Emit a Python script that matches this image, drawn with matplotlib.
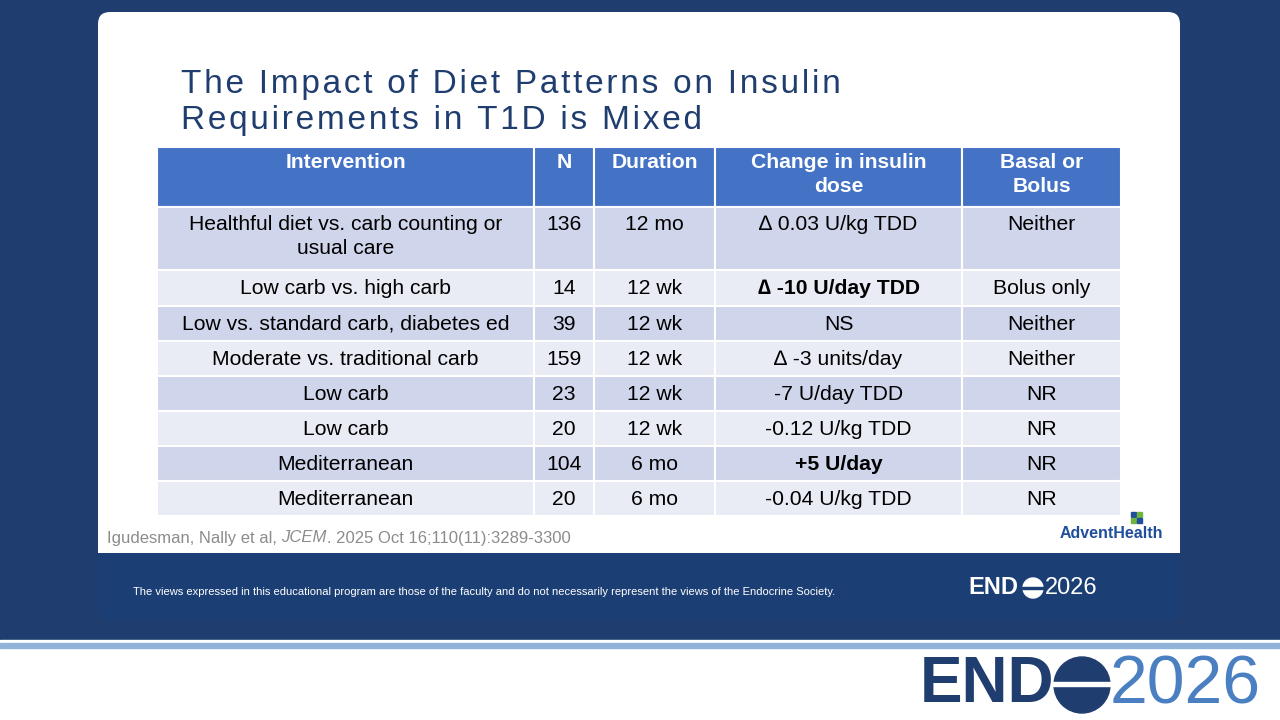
import matplotlib.pyplot as plt
from matplotlib.patches import Rectangle, FancyBboxPatch, Circle

plt.rcParams['font.family'] = ['Liberation Sans', 'DejaVu Sans']

title_lines = ["The Impact of Diet Patterns on Insulin", "Requirements in T1D is Mixed"]
headers = ["Intervention", "N", "Duration", "Change in insulin\ndose", "Basal or\nBolus"]
interventions = ["Healthful diet vs. carb counting or\nusual care", "Low carb vs. high carb",
                 "Low vs. standard carb, diabetes ed", "Moderate vs. traditional carb",
                 "Low carb", "Low carb", "Mediterranean", "Mediterranean"]
n_vals = ["136", "14", "39", "159", "23", "20", "104", "20"]
durations = ["12 mo", "12 wk", "12 wk", "12 wk", "12 wk", "12 wk", "6 mo", "6 mo"]
changes = ["\u2206 0.03 U/kg TDD", "\u2206 -10 U/day TDD", "NS", "\u2206 -3 units/day",
           "-7 U/day TDD", "-0.12 U/kg TDD", "+5 U/day", "-0.04 U/kg TDD"]
bold_change = [False, True, False, False, False, False, True, False]
basal = ["Neither", "Bolus only", "Neither", "Neither", "NR", "NR", "NR", "NR"]

col_x = [157, 534, 594, 715, 962, 1121]
row_y = [147, 207, 270, 306, 341, 376, 411, 446, 481, 516]

fig = plt.figure(figsize=(12.8, 7.2), dpi=100)
ax = fig.add_axes([0, 0, 1, 1])
ax.set_xlim(0, 1280)
ax.set_ylim(720, 0)
ax.axis('off')

# slide background
ax.add_patch(Rectangle((0, 0), 1280, 640, color='#1f3d6e'))
ax.add_patch(Rectangle((0, 640), 1280, 80, color='white'))
ax.add_patch(Rectangle((0, 643), 1280, 5, color='#8fb3d9'))
ax.add_patch(FancyBboxPatch((98, 12), 1082, 608, boxstyle="round,pad=0,rounding_size=12",
                            color='#1b3f74', lw=0))
ax.add_patch(FancyBboxPatch((98, 12), 1082, 560, boxstyle="round,pad=0,rounding_size=12",
                            color='white', lw=0))
ax.add_patch(Rectangle((98, 553), 1082, 25, color='#1b3f74', lw=0))

# spaced title
for k, line in enumerate(title_lines):
    ax.text(181, 84 + k * 36, "\u200a".join(line), fontsize=24, color='#1f3d6e',
            ha='left', va='center', family=['Liberation Sans', 'DejaVu Sans'])

# header
for j, h in enumerate(headers):
    x0, x1 = col_x[j], col_x[j + 1]
    ax.add_patch(Rectangle((x0, row_y[0]), x1 - x0, row_y[1] - row_y[0], color='#4472c4', ec='white', lw=1.5))
    ax.text((x0 + x1) / 2, row_y[0] + 6, h, fontsize=15.2, fontweight='bold', color='white',
            ha='center', va='top', linespacing=1.32)

for i in range(len(interventions)):
    y0, y1 = row_y[i + 1], row_y[i + 2]
    fc = '#cfd5ea' if i % 2 == 0 else '#e9ebf5'
    cells = [interventions[i], n_vals[i], durations[i], changes[i], basal[i]]
    for j, c in enumerate(cells):
        x0, x1 = col_x[j], col_x[j + 1]
        ax.add_patch(Rectangle((x0, y0), x1 - x0, y1 - y0, fc=fc, ec='white', lw=1.5))
        w = 'bold' if (j == 3 and bold_change[i]) else 'normal'
        if i == 0:
            ax.text((x0 + x1) / 2, y0 + 8, c, fontsize=15.2, color='black', ha='center',
                    va='top', fontweight=w, linespacing=1.32)
        else:
            ax.text((x0 + x1) / 2, (y0 + y1) / 2 + 1, c, fontsize=15.2, color='black',
                    ha='center', va='center', fontweight=w)

# citation
t1 = ax.text(107, 538, "Igudesman, Nally et al, ", fontsize=12, color='#8c8c8c', ha='left', va='center')
t2 = ax.annotate("JCEM", xy=(1, 0.5), xycoords=t1, fontsize=12, color='#8c8c8c',
                 ha='left', va='center', style='italic')
ax.annotate(". 2025 Oct 16;110(11):3289-3300", xy=(1, 0.5), xycoords=t2, fontsize=12,
            color='#8c8c8c', ha='left', va='center')

# AdventHealth logo
ax.text(1111, 533, "AdventHealth", fontsize=11.5, color='#1f4e9c', ha='center', va='center',
        fontweight='bold')
ax.add_patch(Rectangle((1131, 512), 5, 5, color='#1f4e9c'))
ax.add_patch(Rectangle((1137, 512), 5, 5, color='#6fb43f'))
ax.add_patch(Rectangle((1131, 518), 5, 5, color='#6fb43f'))
ax.add_patch(Rectangle((1137, 518), 5, 5, color='#1f4e9c'))

# disclaimer band
ax.text(133, 592, "The views expressed in this educational program are those of the faculty and do not "
        "necessarily represent the views of the Endocrine Society.", fontsize=8, color='white',
        ha='left', va='center')
ax.text(968, 588, "END", fontsize=17, fontweight='bold', color='white', ha='left', va='center')
ax.add_patch(Circle((1033, 588), 10, color='white'))
ax.add_patch(Rectangle((1022, 587), 22, 2, color='#1b3f74'))
ax.text(1045, 588, "2026", fontsize=17, color='white', ha='left', va='center')

# bottom logo
ax.text(920, 685, "END", fontsize=46, fontweight='bold', color='#1f3d6e', ha='left', va='center')
ax.add_patch(Circle((1082, 685), 28, color='#1f3d6e'))
ax.add_patch(Rectangle((1050, 682), 64, 4, color='white'))
ax.text(1110, 685, "2026", fontsize=49, color='#4a7fc1', ha='left', va='center')

fig.savefig("out.png", dpi=100)
